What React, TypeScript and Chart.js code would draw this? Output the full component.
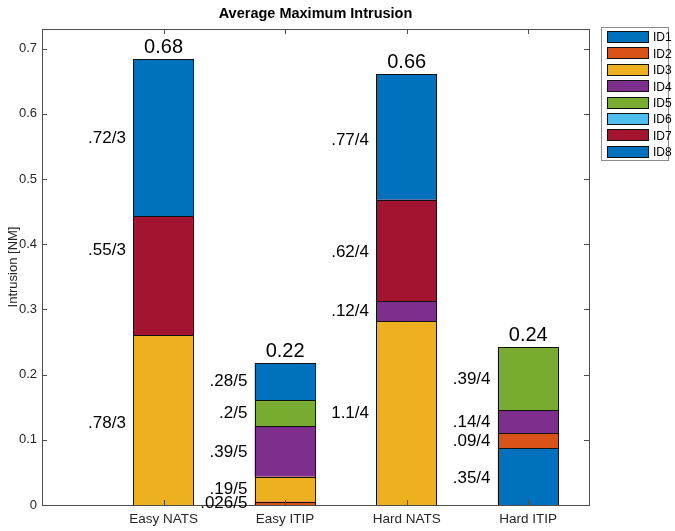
import React, { useEffect, useRef } from "react";
import { Chart, registerables } from "chart.js";

Chart.register(...registerables);

const categories = ["Easy NATS", "Easy ITIP", "Hard NATS", "Hard ITIP"];
const seriesNames = ["ID1", "ID2", "ID3", "ID4", "ID5", "ID6", "ID7", "ID8"];
const seriesColors = ["#0072BD", "#D95319", "#EDB120", "#7E2F8E", "#77AC30", "#4DBEEE", "#A2142F", "#0072BD"];

// values per series, one per category (null = not present)
const id1 = [null, null, null, 0.0875];
const id2 = [null, 0.0052, null, 0.0225];
const id3 = [0.26, 0.038, 0.282, null];
const id4 = [null, 0.078, 0.031, 0.035];
const id5 = [null, 0.04, null, 0.0975];
const id6 = [null, null, null, null];
const id7 = [0.1833, null, 0.155, null];
const id8 = [0.24, 0.056, 0.1925, null];
const seriesValues = [id1, id2, id3, id4, id5, id6, id7, id8];

// segment annotation texts and their y anchors (data units), per category
const easyNatsText = [".72/3", ".55/3", ".78/3"];
const easyNatsAt = [0.562, 0.39, 0.126];
const easyItipText = [".28/5", ".2/5", ".39/5", ".19/5", ".026/5"];
const easyItipAt = [0.189, 0.14, 0.081, 0.024, 0.002];
const hardNatsText = [".77/4", ".62/4", ".12/4", "1.1/4"];
const hardNatsAt = [0.56, 0.388, 0.297, 0.141];
const hardItipText = [".39/4", ".14/4", ".09/4", ".35/4"];
const hardItipAt = [0.193, 0.127, 0.098, 0.041];
const annoTexts = [easyNatsText, easyItipText, hardNatsText, hardItipText];
const annoAt = [easyNatsAt, easyItipAt, hardNatsAt, hardItipAt];

const yTicks = [0, 0.1, 0.2, 0.3, 0.4, 0.5, 0.6, 0.7];
const FONT = "'Liberation Sans', Arial, Helvetica, sans-serif";
const AXIS = "#262626";
const BOX = "#4d4d4d";

export default function App() {
  const ref = useRef<HTMLCanvasElement>(null);
  useEffect(() => {
    if (!ref.current) return;
    const totals = categories.map((_, i) =>
      seriesValues.reduce((s, arr) => s + (arr[i] ?? 0), 0)
    );
    const outlines = {
      id: "outlines",
      afterDatasetsDraw(chart: any) {
        const ctx = chart.ctx;
        ctx.save();
        ctx.strokeStyle = "#111";
        ctx.lineWidth = 1;
        chart.data.datasets.forEach((_: any, di: number) => {
          const meta = chart.getDatasetMeta(di);
          meta.data.forEach((el: any, i: number) => {
            if (seriesValues[di][i] == null) return;
            const { x, y, base, width } = el.getProps(["x", "y", "base", "width"], true);
            const l = Math.round(x - width / 2) + 0.5;
            const r = Math.round(x + width / 2) - 0.5;
            const t = Math.round(y) + 0.5;
            const b = Math.round(base) + 0.5;
            ctx.strokeRect(l, t, r - l, b - t);
          });
        });
        ctx.restore();
      },
    };
    const decor = {
      id: "decor",
      afterDraw(chart: any) {
        const ctx = chart.ctx;
        const { left, right, top, bottom } = chart.chartArea;
        const xs = chart.scales.x;
        const ys = chart.scales.y;
        ctx.save();
        // box
        ctx.strokeStyle = BOX;
        ctx.lineWidth = 1;
        ctx.strokeRect(Math.round(left) + 0.5, Math.round(top) + 0.5, Math.round(right - left), Math.round(bottom - top));
        // inside ticks
        const tl = 5;
        ctx.beginPath();
        categories.forEach((_, i) => {
          const px = Math.round(xs.getPixelForValue(i + 1)) + 0.5;
          ctx.moveTo(px, bottom); ctx.lineTo(px, bottom - tl);
          ctx.moveTo(px, top); ctx.lineTo(px, top + tl);
        });
        yTicks.forEach((v) => {
          const py = Math.round(ys.getPixelForValue(v)) + 0.5;
          ctx.moveTo(left, py); ctx.lineTo(left + tl, py);
          ctx.moveTo(right, py); ctx.lineTo(right - tl, py);
        });
        ctx.stroke();
        // title
        ctx.fillStyle = "#000";
        ctx.font = `bold 14.5px ${FONT}`;
        ctx.textAlign = "center";
        ctx.textBaseline = "middle";
        ctx.fillText("Average Maximum Intrusion", (left + right) / 2, 14);
        // totals
        ctx.font = `20px ${FONT}`;
        ctx.textBaseline = "alphabetic";
        totals.forEach((t, i) => {
          ctx.fillText(t.toFixed(2), xs.getPixelForValue(i + 1), ys.getPixelForValue(t) - 6);
        });
        // segment annotations
        ctx.font = `17px ${FONT}`;
        ctx.textAlign = "right";
        ctx.textBaseline = "middle";
        annoTexts.forEach((arr, i) => {
          arr.forEach((txt, j) => {
            ctx.fillText(txt, xs.getPixelForValue(i + 1 - 0.31), ys.getPixelForValue(annoAt[i][j]));
          });
        });
        // legend
        const lx = 601, ly = 27, lw = 67, lh = 133;
        ctx.fillStyle = "#fff";
        ctx.fillRect(lx, ly, lw, lh);
        ctx.strokeStyle = "#8c8c8c";
        ctx.strokeRect(lx + 0.5, ly + 0.5, lw, lh);
        ctx.font = `12px ${FONT}`;
        ctx.textAlign = "left";
        seriesNames.forEach((name, k) => {
          const cy = ly + 10 + k * 16.4;
          const ry = Math.round(cy - 6);
          ctx.fillStyle = seriesColors[k];
          ctx.fillRect(607, ry, 42, 12);
          ctx.strokeStyle = "#111";
          ctx.strokeRect(607.5, ry + 0.5, 41, 11);
          ctx.fillStyle = "#000";
          ctx.fillText(name, 653, cy + 1);
        });
        ctx.restore();
      },
    };
    const chart = new Chart(ref.current, {
      type: "bar",
      data: {
        datasets: seriesNames.map((name, k) => ({
          label: name,
          data: categories.map((_, i) => ({ x: i + 1, y: seriesValues[k][i] })),
          backgroundColor: seriesColors[k],
          borderWidth: 0,
          inflateAmount: 0,
          categoryPercentage: 1,
          barPercentage: 0.5,
        })),
      },
      options: {
        animation: false,
        responsive: false,
        layout: { padding: { top: 29, right: 86, left: 0, bottom: 0 } },
        plugins: { legend: { display: false }, tooltip: { enabled: false }, title: { display: false } },
        scales: {
          x: {
            type: "linear",
            stacked: true,
            offset: false,
            min: 0,
            max: 4.5,
            grid: { display: false, drawTicks: false },
            border: { display: false },
            afterBuildTicks: (s: any) => { s.ticks = categories.map((_, i) => ({ value: i + 1 })); },
            afterFit: (s: any) => { s.height = 26; },
            ticks: {
              autoSkip: false,
              maxRotation: 0,
              padding: 6,
              color: AXIS,
              font: { family: FONT, size: 13.5 },
              callback: (v: any) => categories[Math.round(v) - 1] ?? "",
            },
          },
          y: {
            stacked: true,
            min: 0,
            max: 0.73,
            grid: { display: false, drawTicks: false },
            border: { display: false },
            afterFit: (s: any) => { s.width = 42; },
            ticks: {
              stepSize: 0.1,
              includeBounds: false,
              padding: 5,
              color: AXIS,
              font: { family: FONT, size: 13 },
              callback: (v: any) => String(Math.round(v * 10) / 10),
            },
            title: {
              display: true,
              text: "Intrusion [NM]",
              color: AXIS,
              font: { family: FONT, size: 13 },
              padding: { top: 6, bottom: 0 },
            },
          },
        },
      },
      plugins: [outlines, decor],
    });
    return () => chart.destroy();
  }, []);
  return (
    <div style={{ position: "fixed", left: 0, top: 0, width: 675, height: 531, background: "#fff" }}>
      <canvas ref={ref} width={675} height={531} style={{ display: "block" }} />
    </div>
  );
}
